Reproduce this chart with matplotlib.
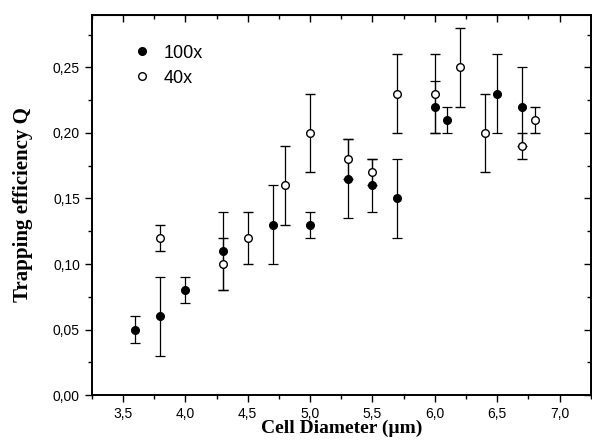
import matplotlib
matplotlib.use("Agg")
import matplotlib.pyplot as plt
from matplotlib.lines import Line2D
from matplotlib.ticker import MultipleLocator, FuncFormatter

# 100x objective (filled)
x100 = [3.6, 3.8, 4.0, 4.3, 4.7, 5.0, 5.3, 5.5, 5.7, 6.0, 6.1, 6.5, 6.7]
q100 = [0.05, 0.06, 0.08, 0.11, 0.13, 0.13, 0.165, 0.16, 0.15, 0.22, 0.21, 0.23, 0.22]
e100 = [0.01, 0.03, 0.01, 0.03, 0.03, 0.01, 0.03, 0.02, 0.03, 0.02, 0.01, 0.03, 0.03]

# 40x objective (open)
x40 = [3.8, 4.3, 4.5, 4.8, 5.0, 5.3, 5.5, 5.7, 6.0, 6.2, 6.4, 6.7, 6.8]
q40 = [0.12, 0.10, 0.12, 0.16, 0.20, 0.18, 0.17, 0.23, 0.23, 0.25, 0.20, 0.19, 0.21]
e40 = [0.01, 0.02, 0.02, 0.03, 0.03, 0.015, 0.01, 0.03, 0.03, 0.03, 0.03, 0.01, 0.01]

fig = plt.figure(figsize=(5.92, 4.4), dpi=100)
ax = fig.add_axes([0.155, 0.102, 0.843, 0.864])

ax.errorbar(x100, q100, yerr=e100, fmt='o', color='black', mfc='black', mec='black',
            markersize=5.5, capsize=3.5, elinewidth=0.9, capthick=0.9)
ax.errorbar(x40, q40, yerr=e40, fmt='o', color='black', mfc='white', mec='black',
            markersize=5.5, capsize=3.5, elinewidth=0.9, capthick=0.9, mew=1.0)

ax.set_xlim(3.25, 7.25)
ax.set_ylim(0, 0.29)
ax.xaxis.set_major_locator(MultipleLocator(0.5))
ax.xaxis.set_minor_locator(MultipleLocator(0.25))
ax.yaxis.set_major_locator(MultipleLocator(0.05))
ax.yaxis.set_minor_locator(MultipleLocator(0.025))
ax.xaxis.set_major_formatter(FuncFormatter(lambda v, p: "{:.1f}".format(v).replace('.', ',')))
ax.yaxis.set_major_formatter(FuncFormatter(lambda v, p: "{:.2f}".format(v).replace('.', ',')))

ax.tick_params(which='both', direction='out', top=False, right=False)
ax.tick_params(which='major', length=5, width=1)
ax.tick_params(which='minor', length=3, width=1)
for lab in ax.get_xticklabels() + ax.get_yticklabels():
    lab.set_fontfamily('Liberation Sans')
    lab.set_fontsize(10)

# mirrored ticks on top/right pointing inward
ax2 = ax.secondary_xaxis('top')
ax2.xaxis.set_major_locator(MultipleLocator(0.5))
ax2.xaxis.set_minor_locator(MultipleLocator(0.25))
ax2.tick_params(which='both', direction='in', labeltop=False)
ax2.tick_params(which='major', length=5, width=1)
ax2.tick_params(which='minor', length=3, width=1)
ay2 = ax.secondary_yaxis('right')
ay2.yaxis.set_major_locator(MultipleLocator(0.05))
ay2.yaxis.set_minor_locator(MultipleLocator(0.025))
ay2.tick_params(which='both', direction='in', labelright=False)
ay2.tick_params(which='major', length=5, width=1)
ay2.tick_params(which='minor', length=3, width=1)

for s in ax.spines.values():
    s.set_linewidth(1.4)

ax.set_xlabel('Cell Diameter (µm)', fontfamily='Liberation Serif', fontweight='bold',
              fontsize=14, labelpad=-1)
ax.set_ylabel('Trapping efficiency Q', fontfamily='Liberation Serif', fontweight='bold',
              fontsize=15, labelpad=14)

handles = [Line2D([], [], ls='none', marker='o', color='black', mfc='black', markersize=5.5),
           Line2D([], [], ls='none', marker='o', color='black', mfc='white', markersize=5.5)]
ax.legend(handles, ['100x', '40x'], loc='upper left', frameon=False,
          prop={'family': 'Liberation Sans', 'size': 13},
          bbox_to_anchor=(0.05, 0.965), handlelength=1.0, handletextpad=0.7,
          labelspacing=0.45)

fig.savefig('out.png', dpi=100)
